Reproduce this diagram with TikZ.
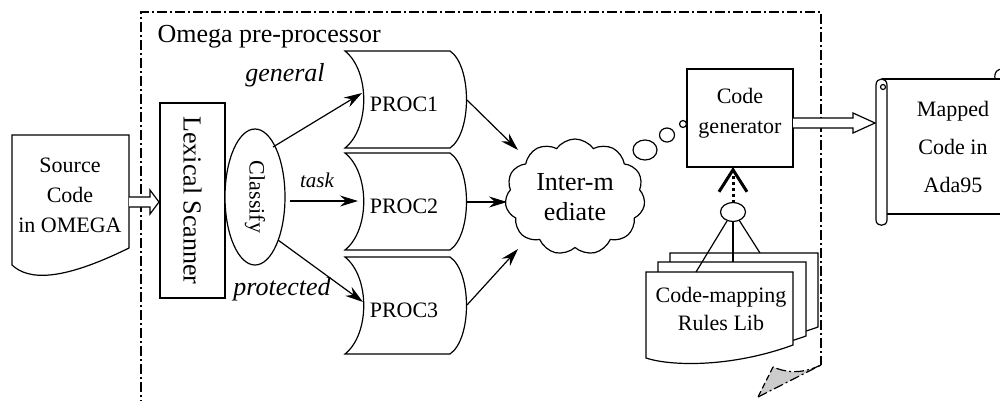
\documentclass[tikz,border=0pt]{standalone}
\usepackage{fontspec}
\setmainfont{Liberation Serif}
\usetikzlibrary{arrows.meta,shapes.symbols,shapes.geometric,calc}
\begin{document}
\begin{tikzpicture}[x=1pt,y=-1pt,line width=1.2pt,
  lbl/.style={font=\fontsize{22}{30}\selectfont, align=center, inner sep=0pt},
  big/.style={font=\fontsize{26}{30}\selectfont, align=center, inner sep=0pt},
  arr/.style={-{Stealth[length=18pt,width=11pt,inset=6pt]}},
  framestyle/.style={dash pattern=on 10pt off 3pt on 2pt off 3pt, line width=1.2pt},
  hollow/.style={fill=white, line width=1.2pt, line join=miter},
]
\useasboundingbox (0,0) rectangle (1000,400);
\clip (0,0) rectangle (1000,400);

% ---- outer frame (dash-dot page with curled corner)
\draw[framestyle] (141,410) -- (141,12) -- (821,12) -- (821,365);
\fill[gray!40] (773,367) .. controls (785,372) and (800,375) .. (821,365) -- (758,397) -- cycle;
\draw[framestyle] (821,365) .. controls (800,375) and (785,372) .. (773,367);
\draw[dash pattern=on 6pt off 3pt] (773,367) -- (758,397);
\draw[framestyle] (758,397) -- (821,365);
\node[big, anchor=base west] (title) at (157,42) {Omega pre-processor};

% ---- source document
\draw[fill=white] (12,135) -- (129,135) -- (129,248) .. controls (60,282) and (28,280) .. (12,265) -- cycle;
\node[lbl] (src) at (70,195) {Source\\Code\\in OMEGA};
\coordinate (srcR) at (129,202);
\coordinate (lexL) at (159,202);
\draw[hollow] ($(srcR)+(0,-5)$) -- ($(lexL)+(-9,-5)$) -- ($(lexL)+(-9,-12)$) -- (lexL)
  -- ($(lexL)+(-9,12)$) -- ($(lexL)+(-9,5)$) -- ($(srcR)+(0,5)$);

% ---- lexical scanner and classify
\node[draw, rotate=-90, minimum width=195pt, minimum height=65pt, big] (lex) at (192.5,200.5) {Lexical Scanner};
\node[draw, ellipse, fill=white, minimum width=60pt, minimum height=136pt, inner sep=0pt] (cls) at (255,197) {};
\node[lbl, rotate=-90] (clst) at (cls) {Classify};

% ---- PROC shapes
\draw[fill=white] (345,51) -- (450,51) .. controls (472,66) and (472,133) .. (450,148) -- (345,148) .. controls (370,128) and (370,71) .. (345,51) -- cycle;
\draw[fill=white] (345,153) -- (450,153) .. controls (472,168) and (472,235) .. (450,250) -- (345,250) .. controls (370,230) and (370,173) .. (345,153) -- cycle;
\draw[fill=white] (345,257) -- (450,257) .. controls (472,272) and (472,339) .. (450,354) -- (345,354) .. controls (370,334) and (370,277) .. (345,257) -- cycle;
\node[lbl] (p1) at (404,104) {PROC1};
\node[lbl] (p2) at (404,206) {PROC2};
\node[lbl] (p3) at (404,310) {PROC3};
\coordinate (p1L) at (362,93);
\coordinate (p2L) at (358,201);
\coordinate (p3L) at (363,302);
\coordinate (p1R) at (467,100);
\coordinate (p2R) at (467,202);
\coordinate (p3R) at (467,305);

% ---- classify arrows
\coordinate (c1) at (273,147);
\coordinate (c2) at (290,201);
\coordinate (c3) at (278,240);
\draw[arr] (c1) -- (p1L);
\draw[arr] (c2) -- (p2L);
\draw[arr] (c3) -- (p3L);
\node[big, font=\fontsize{26}{30}\selectfont\itshape] (lg) at (285,75) {general};
\node[lbl, font=\fontsize{21}{30}\selectfont\itshape] (lt) at (317,180) {task};
\node[big, font=\fontsize{26}{30}\selectfont\itshape] (lp) at (282,289) {protected};

% ---- cloud
\node[cloud, draw, fill=white, cloud puffs=11, cloud puff arc=110, aspect=1.2,
  minimum width=140pt, minimum height=116pt, big] (mid) at (575,197) {Inter-m\\ediate};
\coordinate (m1) at (518,150);
\coordinate (m2) at (507,202);
\coordinate (m3) at (518,249);
\draw[arr] (p1R) -- (m1);
\draw[arr] (p2R) -- (m2);
\draw[arr] (p3R) -- (m3);
\node[draw, ellipse, minimum width=24pt, minimum height=20pt, inner sep=0pt] (b1) at (645,150) {};
\node[draw, ellipse, minimum width=15pt, minimum height=14pt, inner sep=0pt] (b2) at (667,135) {};
\node[draw, circle, minimum size=7pt, inner sep=0pt] (b3) at (683,124) {};

% ---- code generator
\node[draw, minimum width=106pt, minimum height=98pt] (gen) at (740,118) {};
\node[lbl] (gent) at (740,113) {Code\\generator};
\coordinate (genR) at (793,123);
\coordinate (scrL) at (875,123);
\draw[hollow] ($(genR)+(0,-5)$) -- ($(scrL)+(-22,-5)$) -- ($(scrL)+(-22,-10)$) -- (scrL)
  -- ($(scrL)+(-22,10)$) -- ($(scrL)+(-22,5)$) -- ($(genR)+(0,5)$);

% ---- scroll (mapped code)
\draw (882,79) -- (1010,79);
\draw (887,214) -- (1010,214);
\draw[fill=white] (876,85) .. controls (876,77) and (887,77) .. (887,85) -- (887,220)
  .. controls (887,227) and (876,227) .. (876,220) -- cycle;
\draw (883,87) circle [radius=2.5pt];
\draw (995,79) .. controls (994,72) and (997,69) .. (1003,69);
\node[lbl, font=\fontsize{22}{38}\selectfont] (map) at (953,147) {Mapped\\Code in\\Ada95};

% ---- code-mapping rules library (multi document)
\draw[fill=white] (670,253) -- (818,253) -- (818,327) .. controls (754,350) and (694,348) .. (670,340) -- cycle;
\draw[fill=white] (658,262) -- (806,262) -- (806,336) .. controls (742,359) and (682,357) .. (658,349) -- cycle;
\draw[fill=white] (646,272) -- (793,272) -- (793,345) .. controls (730,368) and (670,366) .. (646,358) -- cycle;
\node[lbl, font=\fontsize{22}{28}\selectfont] (lib) at (721,309) {Code-mapping\\Rules Lib};

% ---- hub and links
\node[draw, ellipse, fill=white, minimum width=25pt, minimum height=19pt, inner sep=0pt] (hub) at (733,212) {};
\coordinate (f1) at (696,272);
\coordinate (f2) at (733,262);
\coordinate (f3) at (760,253);
\coordinate (h1) at (727,221);
\coordinate (h2) at (733,221.5);
\coordinate (h3) at (739,220);
\draw (h1) -- (f1);
\draw (h2) -- (f2);
\draw (h3) -- (f3);
\coordinate (hubT) at (733,202.5);
\coordinate (genB) at (733,167);
\draw[line width=3pt, dash pattern=on 3pt off 3pt, -{Straight Barb[length=22pt,width=28pt]}] (hubT) -- (genB);
\end{tikzpicture}
\end{document}
